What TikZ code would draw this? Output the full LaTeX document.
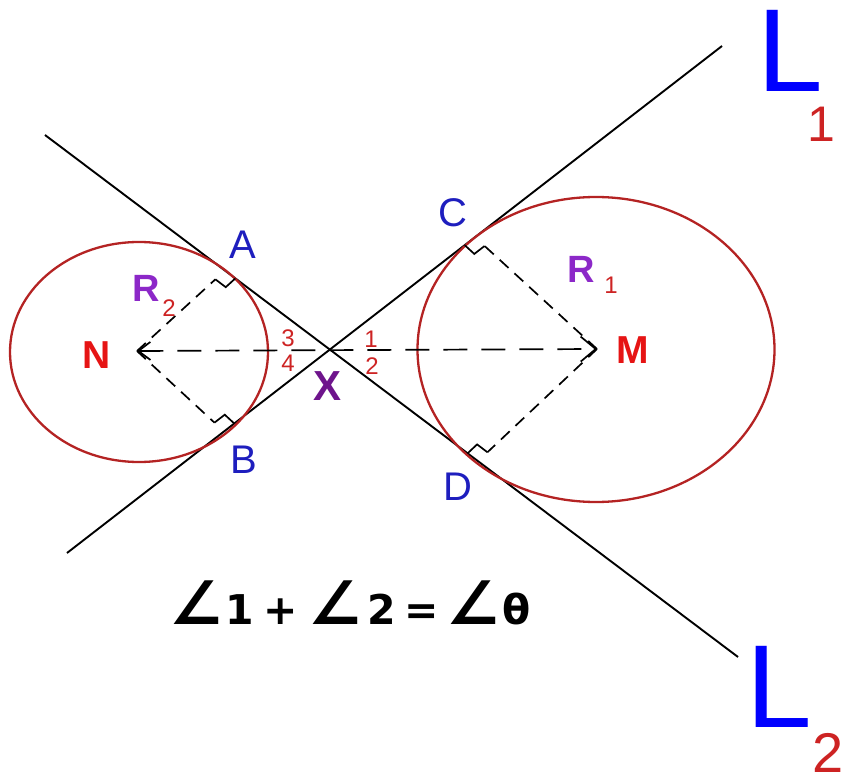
\documentclass[tikz,border=0pt]{standalone}
\usepackage{fontspec}
\setmainfont{Liberation Sans}
\newfontfamily\eqfont{DejaVu Sans}
\usetikzlibrary{calc,arrows.meta}
\definecolor{circred}{RGB}{180,35,35}
\definecolor{lblblue}{RGB}{30,30,190}
\definecolor{Lblue}{RGB}{0,0,255}
\definecolor{subred}{RGB}{205,35,35}
\definecolor{ptred}{RGB}{230,20,20}
\definecolor{xpurple}{RGB}{110,20,140}
\definecolor{rpurple}{RGB}{140,40,200}
\newcommand\angsym{{\fontsize{60}{60}\selectfont ∠}}
\begin{document}
\begin{tikzpicture}[x=1pt,y=-1pt,
  tline/.style={line width=1.9pt, black},
  circ/.style={line width=2.3pt, circred},
  rad/.style={line width=1.7pt, dash pattern=on 12pt off 8pt},
  axisline/.style={line width=1.7pt, dash pattern=on 24pt off 14pt},
  rmark/.style={line width=1.7pt, black},
  ptlbl/.style={font=\fontsize{40}{40}\selectfont, text=lblblue, inner sep=0pt},
  ctr/.style={font=\fontsize{39}{39}\selectfont\bfseries, text=ptred, inner sep=0pt},
  rlbl/.style={font=\fontsize{38}{38}\selectfont\bfseries, text=rpurple, inner sep=0pt},
  rsub/.style={font=\fontsize{24}{24}\selectfont, text=subred, inner sep=0pt},
  anglbl/.style={font=\fontsize{24}{24}\selectfont, text=subred, inner sep=0pt},
  bigL/.style={font=\fontsize{118}{118}\selectfont, text=Lblue, inner sep=0pt, text height=84pt, text depth=0pt},
  Lsub/.style={font=\fontsize{50}{50}\selectfont, text=subred, inner sep=0pt, text height=36pt, text depth=0pt},
  eq/.style={font=\eqfont\bfseries\fontsize{41}{41}\selectfont, text=black, inner sep=0pt}
]
\useasboundingbox (0,0) rectangle (848,783);
% lines
\coordinate (P1) at (67,553);
\coordinate (P2) at (722,46);
\coordinate (Q1) at (45,135);
\coordinate (Q2) at (738,657);
\coordinate (X) at (intersection of P1--P2 and Q1--Q2);
\draw[tline] (P1) -- (P2);
\draw[tline] (Q1) -- (Q2);
% circles
\draw[circ] (139,352) ellipse [x radius=129pt, y radius=110pt];
\draw[circ] (596,349.5) ellipse [x radius=178.5pt, y radius=152.5pt];
% centres and tangent points
\coordinate (N) at (137,351);
\coordinate (M) at (597,349);
\coordinate (A) at ($(Q1)!0.2597!(Q2)$);
\coordinate (B) at ($(P1)!0.2397!(P2)$);
\coordinate (C) at ($(P1)!0.6229!(P2)$);
\coordinate (D) at ($(Q1)!0.6248!(Q2)$);
% right angle marks
\foreach \T/\Cn in {A/N,B/N,C/M,D/M}{
  \coordinate (\T r) at ($(\T)!13pt!(\Cn)$);
  \coordinate (\T s) at ($(\T)!13pt!(X)$);
  \draw[rmark] (\T r) -- ($(\T r)+(\T s)-(\T)$) -- (\T s);
}
% radii
\draw[rad] (N) -- (Ar);
\draw[rad] (N) -- (Br);
\draw[rad] (M) -- (Cr);
\draw[rad] (M) -- (Dr);
\draw[axisline, {Straight Barb[length=12pt,width=18pt]}-{Straight Barb[length=15pt,width=25pt]}] (N) -- (M);
% labels
\node[ptlbl] (lA) at (243,245) {A};
\node[ptlbl] (lB) at (244,460) {B};
\node[ptlbl] (lC) at (453,213) {C};
\node[ptlbl] (lD) at (458,487) {D};
\node[ctr] (lN) at (97,355) {N};
\node[ctr] (lM) at (633,350) {M};
\node[ctr, text=xpurple, font=\fontsize{42}{42}\selectfont\bfseries] (lX) at (328,386) {X};
\node[rlbl] (lR2) at (146,288) {R};
\node[rsub] (lR2s) at (169,308) {2};
\node[rlbl] (lR1) at (581,269) {R};
\node[rsub] (lR1s) at (611,285) {1};
\node[anglbl] (a3) at (288,338) {3};
\node[anglbl] (a4) at (288,363) {4};
\node[anglbl] (a1) at (371,339) {1};
\node[anglbl] (a2) at (372,366) {2};
\node[bigL] (L1) at (790,50) {L};
\node[Lsub] (L1s) at (821,124) {1};
\node[bigL] (L2) at (779,685) {L};
\node[Lsub, font=\fontsize{56}{56}\selectfont, text height=40pt] (L2s) at (828,752) {2};
\node[eq] (eqn) at (350,603) {\angsym\hspace{2pt}1\hspace{10pt}+\hspace{10pt}\angsym\hspace{6pt}2\hspace{8pt}=\hspace{8pt}\angsym\hspace{2pt}θ};
\end{tikzpicture}
\end{document}
